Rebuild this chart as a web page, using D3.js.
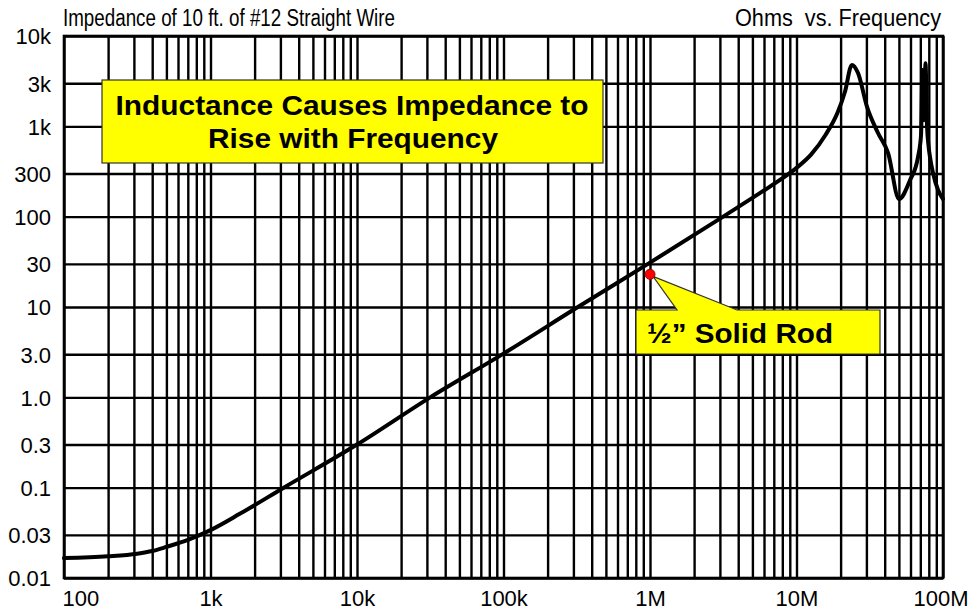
<!DOCTYPE html>
<html>
<head>
<meta charset="utf-8">
<script src="https://cdn.jsdelivr.net/npm/d3@7"></script>
<style>
  html, body { margin: 0; padding: 0; background: #fff; }
  svg { display: block; }
  text { font-family: "Liberation Sans", Arial, Helvetica, sans-serif; fill: #000; }
</style>
</head>
<body>
<svg id="chart" width="970" height="610"></svg>
<script>
// ---------- data ----------
const chartTitle = "Impedance of 10 ft. of #12 Straight Wire";
const unitsTitle = "Ohms  vs. Frequency";
const boxLine1 = "Inductance Causes Impedance to";
const boxLine2 = "Rise with Frequency";
const calloutText = "\u00BD\u201D Solid Rod";

const xTickValues = [100, 1e3, 1e4, 1e5, 1e6, 1e7, 1e8];
const xTickLabels = ["100", "1k", "10k", "100k", "1M", "10M", "100M"];
const yTickValues = [0.01, 0.03, 0.1, 0.3, 1, 3, 10, 30, 100, 300, 1000, 3000, 10000];
const yTickLabels = ["0.01", "0.03", "0.1", "0.3", "1.0", "3.0", "10", "30", "100", "300", "1k", "3k", "10k"];

// frequency (Hz)
const freq = [100, 200, 316, 400, 500, 708, 1000, 1585, 3162, 10000,
  31600, 100000, 316000, 1e6, 3.16e6, 5.62e6, 7.94e6, 1e7, 1.26e7, 1.585e7, 1.905e7, 2.14e7, 2.39e7,
  2.63e7, 3.03e7, 3.6e7, 4.22e7, 5.01e7, 5.96e7, 6.75e7, 7.08e7, 7.24e7, 7.41e7, 7.60e7,
  7.78e7, 7.96e7, 8.15e7, 8.55e7, 9.25e7, 1e8];
// impedance (ohms)
const ohms = [0.0166, 0.0174, 0.0186, 0.0199, 0.0221, 0.0266, 0.0339, 0.0513, 0.100, 0.30,
  1.0, 3.05, 9.8, 31, 100, 182, 263, 347, 490, 813, 1413, 2400, 4790,
  3890, 1640, 844, 506, 157, 254, 457, 800, 4200, 1170, 5000,
  1030, 615, 457, 304, 197, 157];

const markerFreq = 1e6;
const markerOhms = 23;

// ---------- layout ----------
const W = 970, H = 610;
const margin = { left: 64, right: 27, top: 36, bottom: 32 };
const pw = W - margin.left - margin.right;
const ph = H - margin.top - margin.bottom;

const svg = d3.select("#chart");
const g = svg.append("g").attr("transform", `translate(${margin.left},${margin.top})`);

const x = d3.scaleLog().domain([100, 1e8]).range([0, pw]);
const y = d3.scaleLog().domain([0.01, 10000]).range([ph, 0]);

// minor vertical grid values 1..9 per decade
const xGridValues = [];
for (let k = 2; k < 8; k++) for (let n = 1; n <= 9; n++) xGridValues.push(n * Math.pow(10, k));
xGridValues.push(1e8);

const gridW = 2.4;

// vertical grid + x labels
const xAxis = d3.axisBottom(x)
  .tickValues(xGridValues)
  .tickSize(-ph)
  .tickSizeOuter(0)
  .tickPadding(0)
  .tickFormat(d => {
    const i = xTickValues.findIndex(v => Math.abs(v - d) / v < 1e-9);
    return i >= 0 ? xTickLabels[i] : "";
  });
const gx = g.append("g").attr("transform", `translate(0,${ph})`).call(xAxis);
gx.select(".domain").remove();
gx.selectAll(".tick line").attr("stroke", "#000").attr("stroke-width", gridW);
gx.selectAll(".tick text")
  .attr("font-size", 22)
  .attr("y", 28)
  .attr("dy", 0)
  .attr("fill", "#000");
gx.selectAll(".tick text").filter(d => d === 100).attr("text-anchor", "start").attr("x", -2);
gx.selectAll(".tick text").filter(d => d === 1e8).attr("text-anchor", "end").attr("x", 25);

// horizontal grid + y labels
const yAxis = d3.axisLeft(y)
  .tickValues(yTickValues)
  .tickSize(-pw)
  .tickSizeOuter(0)
  .tickPadding(13)
  .tickFormat((d, i) => yTickLabels[i]);
const gy = g.append("g").call(yAxis);
gy.select(".domain").remove();
gy.selectAll(".tick line").attr("stroke", "#000").attr("stroke-width", gridW);
gy.selectAll(".tick text").attr("font-size", 22).attr("fill", "#000").attr("dy", "0.36em");

// frame
g.append("rect").attr("x", 0).attr("y", 0).attr("width", pw).attr("height", ph)
  .attr("fill", "none").attr("stroke", "#000").attr("stroke-width", 2.6);

// curve
const data = freq.map((f, i) => [f, ohms[i]]);
const line = d3.line().x(d => x(d[0])).y(d => y(d[1])).curve(d3.curveMonotoneX);
g.append("path").datum(data)
  .attr("d", line)
  .attr("fill", "none")
  .attr("stroke", "#000")
  .attr("stroke-width", 4)
  .attr("stroke-linejoin", "round")
  .attr("stroke-linecap", "round");

// titles
svg.append("text").attr("x", 63).attr("y", 26).attr("font-size", 23)
  .attr("textLength", 332).attr("lengthAdjust", "spacingAndGlyphs").text(chartTitle);
svg.append("text").attr("x", 735).attr("y", 26).attr("font-size", 23)
  .style("white-space", "pre")
  .attr("textLength", 206).attr("lengthAdjust", "spacingAndGlyphs").text(unitsTitle);

// headline box
svg.append("rect").attr("x", 102).attr("y", 80).attr("width", 501).attr("height", 83)
  .attr("fill", "#ffff00").attr("stroke", "#333").attr("stroke-width", 1.2);
svg.append("text").attr("x", 352).attr("y", 115).attr("text-anchor", "middle")
  .attr("font-size", 28).attr("font-weight", "bold")
  .attr("textLength", 473).attr("lengthAdjust", "spacingAndGlyphs").text(boxLine1);
svg.append("text").attr("x", 353).attr("y", 148).attr("text-anchor", "middle")
  .attr("font-size", 28).attr("font-weight", "bold")
  .attr("textLength", 290).attr("lengthAdjust", "spacingAndGlyphs").text(boxLine2);

// callout
const mx = margin.left + x(markerFreq), my = margin.top + y(markerOhms);
const bx0 = 636, bx1 = 880, by0 = 310, by1 = 354;
svg.append("path")
  .attr("d", `M${bx0},${by0} L677,${by0} L${mx + 3},${my + 2} L737,${by0} L${bx1},${by0} L${bx1},${by1} L${bx0},${by1} Z`)
  .attr("fill", "#ffff00").attr("stroke", "#333").attr("stroke-width", 1.2).attr("stroke-linejoin", "miter");
svg.append("text").attr("x", 647).attr("y", 343)
  .attr("font-size", 28).attr("font-weight", "bold")
  .attr("textLength", 186).attr("lengthAdjust", "spacingAndGlyphs").text(calloutText);
svg.append("circle").attr("cx", mx).attr("cy", my).attr("r", 5)
  .attr("fill", "#ff0000").attr("stroke", "#990000").attr("stroke-width", 1);
</script>
</body>
</html>
